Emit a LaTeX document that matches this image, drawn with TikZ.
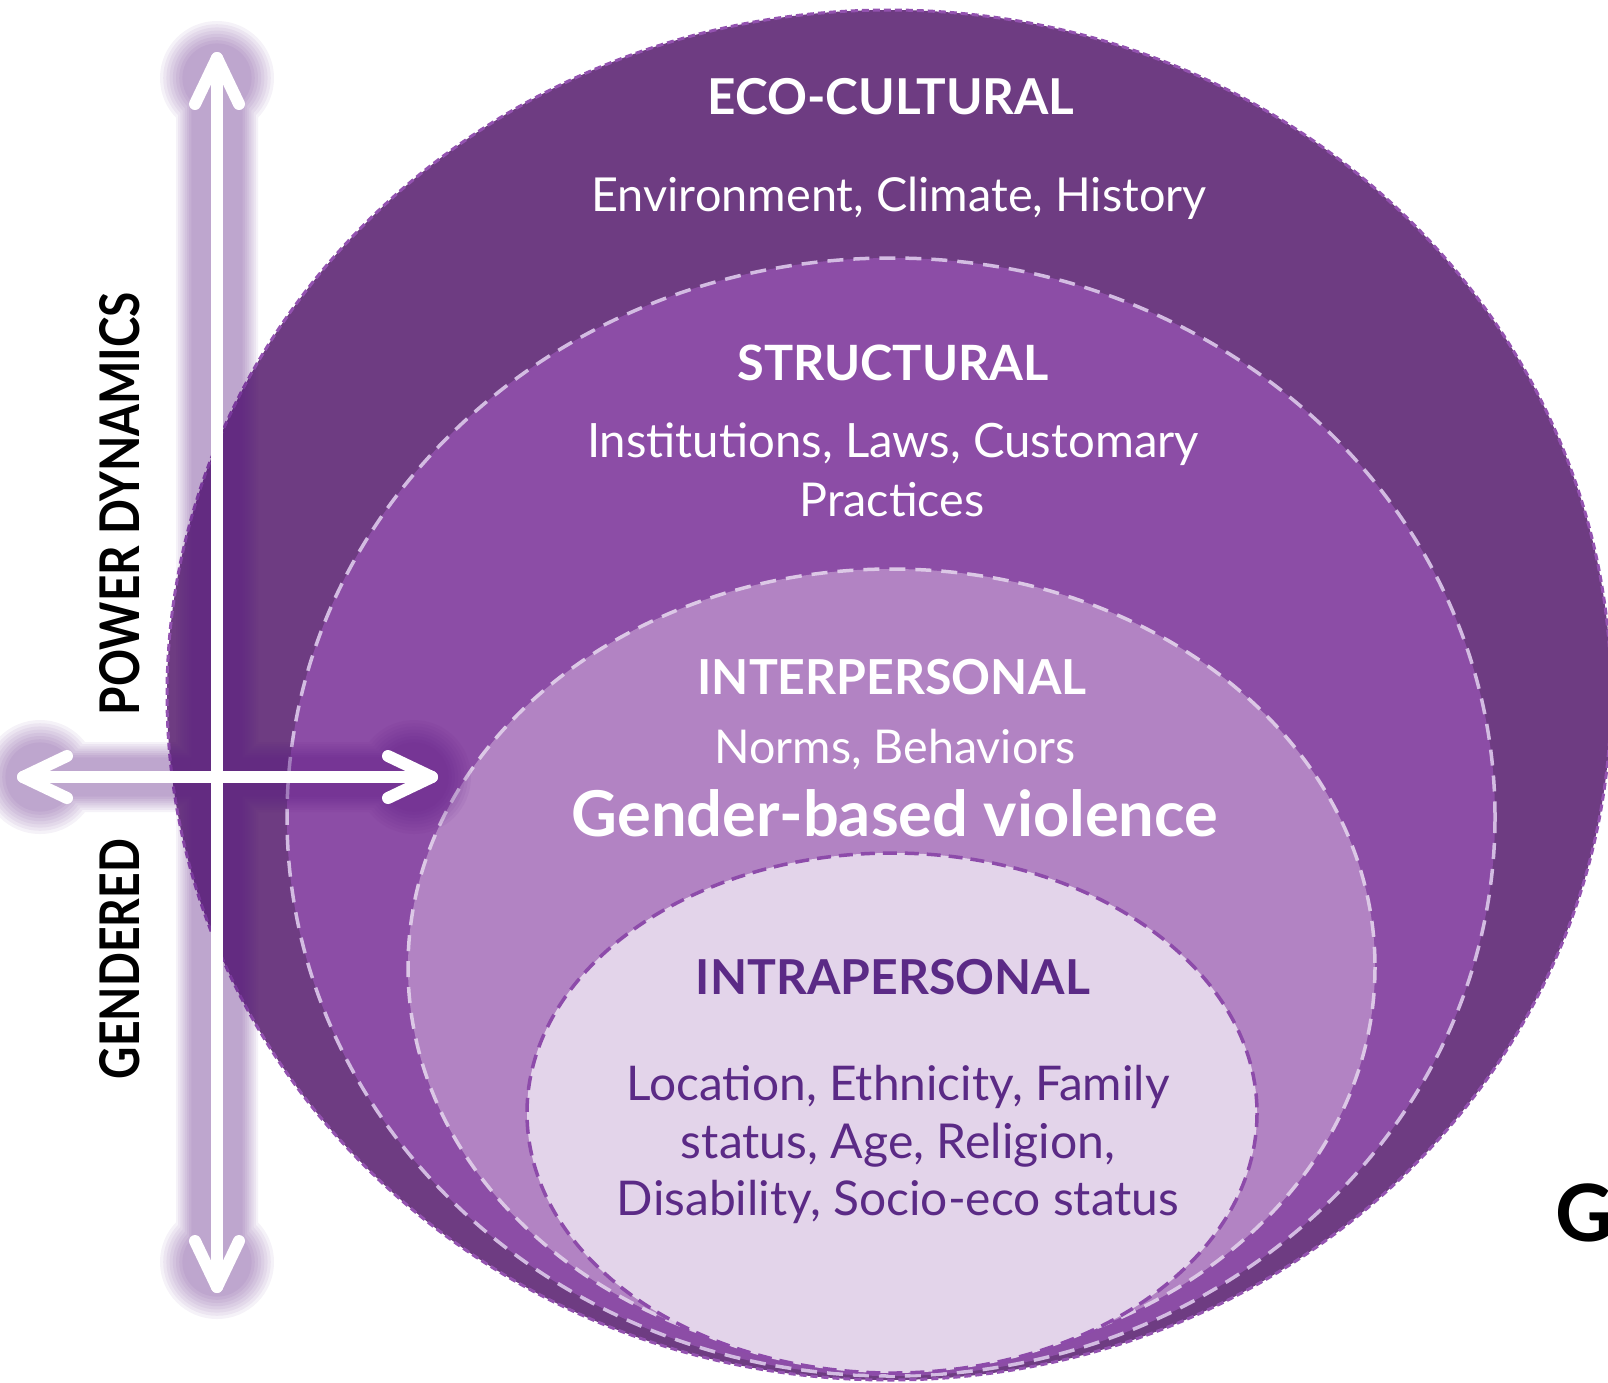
\documentclass[tikz,border=0pt]{standalone}
\usepackage{fontspec}
\setmainfont{Lato}
\usetikzlibrary{calc}
\definecolor{ecoC}{HTML}{6E3C82}
\definecolor{strC}{HTML}{8C4DA6}
\definecolor{intC}{HTML}{B283C3}
\definecolor{intraC}{HTML}{E3D4EA}
\definecolor{ecoB}{HTML}{9352B0}
\definecolor{strB}{HTML}{D3BCE2}
\definecolor{intB}{HTML}{DCC8E6}
\definecolor{intraB}{HTML}{8D4BAA}
\definecolor{intraT}{HTML}{5B2A86}
\definecolor{glowC}{HTML}{561581}
\newcommand{\fitw}[2]{\resizebox{#1pt}{!}{#2}}
\begin{document}
\begin{tikzpicture}[x=1pt,y=-1pt,
  txt/.style={inner sep=0pt, anchor=base, text=white},
  headtxt/.style={txt, font=\fontsize{40}{48}\selectfont\bfseries},
  bodytxt/.style={txt, font=\fontsize{40}{48}\selectfont},
  sidetxt/.style={inner sep=0pt, rotate=90, text=black, font=\fontsize{40}{48}\selectfont\bfseries},
  arrowline/.style={white, line width=12pt, line cap=round, line join=round},
  glowlayer/.style={transparency group, opacity=0.056}]
\useasboundingbox (0,0) rectangle (1608,1382);
\fill[white] (0,0) rectangle (1608,1382);

% layers
\fill[ecoC] (889,695) ellipse [x radius=722, y radius=685];
\draw[ecoB, line width=3pt, dash pattern=on 7pt off 4pt] (889,695) ellipse [x radius=722, y radius=685];
\fill[strC] (891,817) ellipse [x radius=604, y radius=559];
\draw[strB, line width=3.5pt, dash pattern=on 16pt off 10pt] (891,817) ellipse [x radius=604, y radius=559];
\fill[intC] (891.5,967) ellipse [x radius=483.5, y radius=398];
\draw[intB, line width=3.5pt, dash pattern=on 16pt off 10pt] (891.5,967) ellipse [x radius=483.5, y radius=398];
\fill[intraC] (892,1113) ellipse [x radius=365, y radius=260];
\draw[intraB, line width=3.5pt, dash pattern=on 14pt off 8pt] (892,1113) ellipse [x radius=365, y radius=260];

% glow
\coordinate (gvt) at (217,78);
\coordinate (gvb) at (217,1262);
\coordinate (ghl) at (40,777);
\coordinate (ghr) at (414,777);
\foreach \i in {0,...,7}{
  \pgfmathsetmacro\hv{41-2.2*\i}
  \pgfmathsetmacro\hh{35-2.2*\i}
  \pgfmathsetmacro\rr{57-3.2*\i}
  \begin{scope}[glowlayer]
    \draw[glowC, line width=2*\hv pt] (gvt) -- (gvb);
    \draw[glowC, line width=2*\hh pt] (ghl) -- (ghr);
    \fill[glowC] (gvt) circle (\rr) (gvb) circle (\rr) (ghl) circle (\rr) (ghr) circle (\rr);
  \end{scope}
}

% arrows
\coordinate (vtop) at (217,58);
\coordinate (vbot) at (217,1287);
\coordinate (hlft) at (23,777);
\coordinate (hrgt) at (432,777);
\draw[arrowline] (vtop) -- (vbot);
\draw[arrowline] (hlft) -- (hrgt);
\draw[arrowline] ($(vtop)+(-22,46)$) -- (vtop) -- ($(vtop)+(22,46)$);
\draw[arrowline] ($(vbot)+(-22,-46)$) -- (vbot) -- ($(vbot)+(22,-46)$);
\draw[arrowline] ($(hlft)+(44,-21)$) -- (hlft) -- ($(hlft)+(44,21)$);
\draw[arrowline] ($(hrgt)+(-44,-21)$) -- (hrgt) -- ($(hrgt)+(-44,21)$);

% side labels
\node[sidetxt] (power) at (120,503.5) {\resizebox{423pt}{40pt}{POWER DYNAMICS}};
\node[sidetxt] (gendered) at (120,959) {\resizebox{240pt}{40pt}{GENDERED}};

% texts
\node[headtxt] (ecoT) at (891,114) {\fitw{367}{ECO-CULTURAL}};
\node[bodytxt] (ecoS) at (899,211) {\fitw{615}{Environment, Climate, History}};
\node[headtxt] (strT) at (893,380) {\fitw{311}{STRUCTURAL}};
\node[bodytxt] (strS1) at (893,457) {\fitw{612}{Institutions, Laws, Customary}};
\node[bodytxt] (strS2) at (892,516) {\fitw{185}{Practices}};
\node[headtxt] (intT) at (892,694) {\fitw{389}{INTERPERSONAL}};
\node[bodytxt] (intS) at (895,763) {\fitw{361}{Norms, Behaviors}};
\node[headtxt] (gbv) at (895,836) {\fitw{646}{Gender-based violence}};
\node[headtxt, text=intraT] (intraT) at (893,994) {\fitw{394}{INTRAPERSONAL}};
\node[bodytxt, text=intraT] (intraS1) at (898,1100) {\fitw{543}{Location, Ethnicity, Family}};
\node[bodytxt, text=intraT] (intraS2) at (898,1158) {\fitw{434}{status, Age, Religion,}};
\node[bodytxt, text=intraT] (intraS3) at (898,1215) {\fitw{562}{Disability, Socio-eco status}};

% cut-off letter at right edge
\node[inner sep=0pt, anchor=base west, text=black, font=\fontsize{79}{80}\selectfont\bfseries] (gcut) at (1555,1241) {G};
\end{tikzpicture}
\end{document}
